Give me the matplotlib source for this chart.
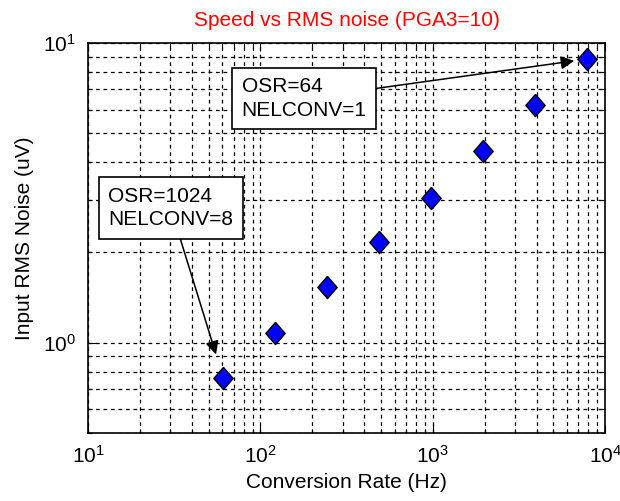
import matplotlib
matplotlib.use("Agg")
import matplotlib.pyplot as plt
from matplotlib.ticker import LogLocator

plt.rcParams['font.family'] = ['Liberation Sans', 'DejaVu Sans']
plt.rcParams['mathtext.fontset'] = 'custom'
plt.rcParams['mathtext.rm'] = 'Liberation Sans'

rate_hz = [61, 122, 244, 488, 976, 1953, 3906, 7812]
noise_uv = [0.76, 1.08, 1.53, 2.16, 3.05, 4.35, 6.2, 8.84]

title = "Speed vs RMS noise (PGA3=10)"
xlabel = "Conversion Rate (Hz)"
ylabel = "Input RMS Noise (uV)"
note_fast = "OSR=64\nNELCONV=1"
note_slow = "OSR=1024\nNELCONV=8"

fig = plt.figure(figsize=(6.2, 5.01), dpi=100)
ax = fig.add_axes([0.142, 0.136, 0.834, 0.778])
ax.set_xscale('log')
ax.set_yscale('log')
ax.set_xlim(10, 1e4)
ax.set_ylim(0.5, 10)

diamond = [(0, 1), (0.87, 0), (0, -1), (-0.87, 0), (0, 1)]
ax.plot(rate_hz, noise_uv, linestyle='none', marker=diamond, markersize=16,
        markerfacecolor='#0000ff', markeredgecolor='k', markeredgewidth=1, zorder=5)

ax.xaxis.set_major_locator(LogLocator(base=10, numticks=10))
ax.xaxis.set_minor_locator(LogLocator(base=10, subs=range(2, 10), numticks=20))
ax.yaxis.set_major_locator(LogLocator(base=10, numticks=10))
ax.yaxis.set_minor_locator(LogLocator(base=10, subs=range(2, 10), numticks=20))

ax.grid(True, which='both', color='k', linestyle=(0, (3, 3)), linewidth=0.9)
ax.tick_params(which='both', direction='in', top=True, right=True, labelsize=15)
ax.tick_params(which='major', length=6, width=0.8, pad=9)
ax.tick_params(which='minor', length=3, width=0.8)
ax.tick_params(axis='y', which='minor', labelleft=False)
for s in ax.spines.values():
    s.set_linewidth(1.2)

ax.set_title(title, color='#ff0000', fontsize=15, pad=12)
ax.set_xlabel(xlabel, fontsize=15, labelpad=4)
ax.set_ylabel(ylabel, fontsize=15, labelpad=6)

boxprops = dict(boxstyle='square,pad=0.45', facecolor='white', edgecolor='k', linewidth=1.2)
arrowprops = dict(arrowstyle='-|>', color='k', lw=1.1, mutation_scale=20)

ax.annotate(note_fast, xy=(rate_hz[-1], noise_uv[-1]), xycoords='data',
            xytext=(0.418, 0.858), textcoords='axes fraction',
            ha='center', va='center', multialignment='left', fontsize=15,
            linespacing=1.3, bbox=boxprops,
            arrowprops=dict(arrowprops, shrinkA=0, shrinkB=9), zorder=6)

ax.annotate(note_slow, xy=(rate_hz[0], noise_uv[0]), xycoords='data',
            xytext=(0.160, 0.577), textcoords='axes fraction',
            ha='center', va='center', multialignment='left', fontsize=15,
            linespacing=1.3, bbox=boxprops,
            arrowprops=dict(arrowprops, shrinkA=0, shrinkB=18), zorder=6)

fig.savefig('out.png', dpi=100)
